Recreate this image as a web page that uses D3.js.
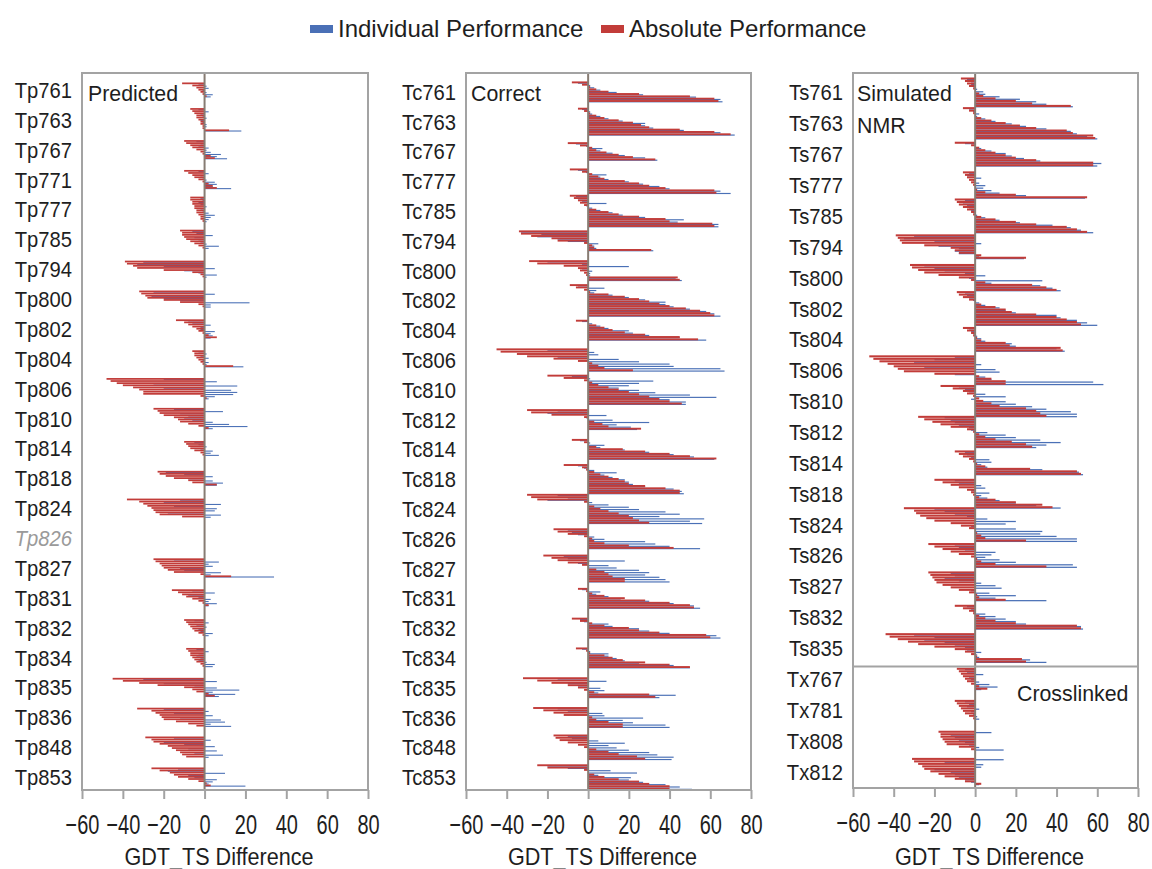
<!DOCTYPE html>
<html lang="en">
<head>
<meta charset="UTF-8">
<title>GDT_TS Difference</title>
<script src="https://cdn.jsdelivr.net/npm/d3@7/dist/d3.min.js"></script>
<style>
  body { margin:0; background:#fff; }
  text { font-family: "Liberation Sans", Arial, sans-serif; fill:#1e1e1e; }
</style>
</head>
<body>
<svg id="chart" width="1152" height="869"></svg>
<script>
var xTicks = [-60, -40, -20, 0, 20, 40, 60, 80];

// Predicted
var predTargets = ["Tp761","Tp763","Tp767","Tp771","Tp777","Tp785","Tp794","Tp800","Tp802","Tp804","Tp806","Tp810",
                   "Tp814","Tp818","Tp824","Tp826","Tp827","Tp831","Tp832","Tp834","Tp835","Tp836","Tp848","Tp853"];
var predAbs = [
  [-11,-6,-4,-3,-2,-1,1], [-7,-6,-5,-4,-4,-3,-2,-2,-1,-1,12], [-10,-9,-7,-6,-4,-2,-1,3,5], [-10,-8,-6,-5,-3,-1,2,4,6],
  [-7,-7,-6,-6,-5,-5,-4,-4,-3,-2,-2,-1], [-12,-11,-11,-10,-9,-7,-5,-3,-1], [-39,-38,-35,-33,-20,-6,-2,-1], [-32,-31,-29,-28,-20,-12,-3,-1],
  [-14,-10,-8,-6,-4,-3,-1,2,6], [-6,-5,-5,-4,-3,-2,-1,14], [-48,-46,-43,-40,-35,-32,-30,-30,-2,1], [-25,-23,-22,-20,-15,-13,-12,-8,-3,2],
  [-10,-9,-8,-7,-5,-2,-1], [-23,-22,-19,-15,-8,-6,6], [-38,-32,-30,-28,-26,-25,-24,-22,-11], [],
  [-25,-24,-22,-21,-20,-18,-15,-2,13], [-16,-13,-11,-9,-6,-3,-1,2], [-10,-9,-8,-7,-6,-5,-3,-1], [-9,-8,-7,-7,-6,-5,-4,-2,-1],
  [-45,-40,-32,-23,-10,-6,-4,2,5], [-33,-26,-24,-22,-21,-20,-14,-8,-4], [-29,-26,-25,-22,-18,-16,-14,-12,-11,-9], [-26,-22,-17,-15,-13,-8,-3,1,3]
];
var predInd = [
  [-3,1,2,-1,1,4,3], [-3,2,-2,-1,1,-2,-1,1,1,0,18], [-4,-2,-3,2,1,3,8,6,11], [-3,2,-2,-1,1,5,6,4,13],
  [-2,-1,-3,-2,1,-2,-1,2,5,3,2,1], [-6,-4,4,-5,-3,-2,1,7,2], [-30,-33,-20,5,-10,-3,6,1], [-25,5,-26,-20,-12,22,3,3],
  [-8,-6,3,-2,-2,5,3,4,3], [-3,1,-2,2,-1,2,1,19], [-20,6,-25,16,-20,13,16,14,5,2], [-15,9,-12,-8,-10,-6,4,12,21,4],
  [-5,-3,1,-2,4,3,7], [-19,-10,4,-8,4,9,6], [-12,-20,8,-15,6,5,-18,8,3], [],
  [-15,7,2,4,-12,-10,8,3,34], [-6,5,-8,-3,3,2,6,2], [-5,2,-4,1,-3,-2,4,2], [-4,2,-3,-4,-2,-3,1,5,4],
  [-30,6,-20,-5,6,17,4,15,7], [-20,2,-15,4,-12,8,10,3,13], [-15,3,-20,-10,5,-8,6,-5,9,2], [-13,-18,10,-8,-5,6,4,2,20]
];

// Correct
var corrTargets = ["Tc761","Tc763","Tc767","Tc777","Tc785","Tc794","Tc800","Tc802","Tc804","Tc806","Tc810","Tc812",
                   "Tc814","Tc818","Tc824","Tc826","Tc827","Tc831","Tc832","Tc834","Tc835","Tc836","Tc848","Tc853"];
var corrAbs = [
  [-8,-3,1,4,10,25,50,62,64], [-5,-2,1,4,8,15,22,26,30,45,62,70], [-10,-4,2,4,9,15,22,33], [-9,-3,2,5,8,18,25,30,38,62,63],
  [-9,-7,-5,-4,-2,0,4,10,15,25,38,40,61,62], [-34,-33,-28,-18,-15,-2,2,3,31], [-29,-25,-12,-5,-4,-2,-1,44,45],
  [-9,-6,-2,1,10,18,25,30,35,40,48,55,60,62], [-6,0,4,8,12,18,28,45,54], [-45,-43,-35,-30,-17,-5,2,5,8,22],
  [-20,-12,-2,2,5,10,15,20,25,30,35,40,46], [-30,-28,-18,-2,0,3,7,10,26], [-8,-2,0,4,17,28,40,50,63],
  [-12,-3,-1,3,6,10,15,18,20,28,38,45,45], [-30,-28,-25,-2,0,3,6,10,15,20,22,25,30], [-17,-15,-10,-2,2,3,8,20,42],
  [-22,-18,-15,-10,-3,0,4,8,10,12,18,18], [-5,-1,2,8,18,28,40,50,52], [-8,-4,2,8,20,25,35,58,60], [-6,-1,1,8,12,17,28,40,50],
  [-32,-25,-18,-10,-5,-2,3,30,33], [-27,-22,-17,-12,2,4,10,17,17], [-17,-16,-14,-10,-5,-2,4,10,15,24,28], [-25,-20,-2,0,3,8,15,25,30,40,40]
];
var corrInd = [
  [-5,1,3,6,14,27,53,65,66], [-3,1,2,6,10,17,28,28,32,47,65,72], [-6,-1,7,6,12,18,28,34], [-5,-1,9,6,10,20,27,35,40,65,70],
  [-6,-5,-3,9,-1,2,6,12,17,28,47,44,64,64], [-33,-23,-25,-15,-10,5,3,4,32], [-20,-3,20,-3,2,1,1,43,46],
  [-5,8,4,3,12,20,28,38,38,42,50,58,62,65], [-3,2,6,10,20,22,30,45,58], [-20,3,5,-15,15,25,40,42,65,67],
  [-8,1,32,25,20,15,25,33,50,63,40,48,48], [-15,-20,9,-1,12,30,14,21,24], [-4,1,8,6,18,30,42,52,62],
  [-5,-2,3,14,8,12,18,20,22,28,42,46,47], [-15,-10,-20,2,10,20,25,38,45,35,57,50,56], [-10,-8,-5,3,8,28,33,40,55],
  [-12,-10,18,-5,10,14,25,30,28,35,38,40], [-3,6,4,10,16,30,42,52,55], [-4,-2,10,12,25,30,40,63,65], [-3,1,10,10,14,18,25,42,50],
  [-15,9,-10,-5,6,8,5,43,35], [-15,-10,7,8,27,17,22,38,40], [-10,-8,5,18,10,14,20,30,34,42,41], [-20,-10,11,24,5,21,20,27,38,45,51]
];

// Simulated NMR
var simTargets = ["Ts761","Ts763","Ts767","Ts777","Ts785","Ts794","Ts800","Ts802","Ts804","Ts806","Ts810","Ts812",
                  "Ts814","Ts818","Ts824","Ts826","Ts827","Ts832","Ts835"];
var simAbs = [
  [-7,-5,-4,-3,-1,0,2,4,10,20,28,47], [-6,-3,-1,0,3,8,15,22,30,45,48,58,59], [-10,-2,2,5,10,15,20,30,58,58], [-6,-5,-4,-3,-2,-1,0,1,5,20,55],
  [-10,-9,-8,-6,-4,-2,-1,3,10,20,30,45,50,55], [-39,-38,-37,-36,-25,-12,-10,-8,3,25], [-32,-31,-28,-25,-18,-8,-2,5,28,35,40],
  [-9,-8,-6,-3,0,3,10,15,18,30,40,45,50,52], [-6,-4,-2,-1,1,3,15,17,42,43], [-52,-50,-47,-43,-40,-38,-35,-20,2,8,15,15],
  [-17,-11,-6,-4,-1,2,4,8,12,25,30,32,35], [-28,-25,-21,-17,-12,-4,-1,2,5,10,18,25,28], [-10,-8,-6,-3,-1,1,5,27,50,52],
  [-20,-16,-12,-8,-4,-2,-1,2,10,20,33,38], [-35,-30,-29,-27,-24,-20,-12,-7,-3,0,1,3,5,25], [-23,-20,-16,-12,-8,-2,1,3,10,35],
  [-23,-22,-21,-20,-19,-16,-12,-8,-3,1,2,15], [-10,-6,-3,-1,2,5,10,20,50,52], [-44,-42,-38,-33,-28,-20,-10,-5,-2,1,23,25]
];
var simInd = [
  [-4,-2,-2,-1,1,4,5,12,22,30,35,48], [-3,-1,2,1,5,10,18,25,35,47,50,55,60], [-5,0,3,8,15,18,24,32,62,60], [-3,-4,3,-1,2,5,4,8,12,25,54],
  [-5,-6,-4,-3,-2,-1,1,5,12,22,38,47,52,58], [-30,-35,-20,3,-18,-8,-10,-8,2,24], [-25,-20,-15,-5,5,-3,33,8,32,38,42],
  [-5,-4,-3,-1,2,5,12,15,20,40,42,50,55,60], [-3,-2,-1,1,3,5,18,20,40,44], [-10,-20,-30,3,-25,10,12,-10,5,8,58,63],
  [-8,-5,-3,5,15,-2,15,20,28,35,47,50,50], [-15,-12,-10,-8,-3,-2,6,15,20,32,42,35,30], [-5,-4,-2,7,8,3,6,33,51,53],
  [-10,-8,3,5,-2,7,3,6,12,20,30,42], [-20,-15,-10,-4,6,20,15,-2,20,33,32,40,50,50], [-10,-8,-5,10,8,5,12,20,48,50],
  [-12,-10,-15,-8,3,10,13,-2,7,20,10,35], [-4,-2,-1,5,10,15,20,25,52,53], [-30,-20,-25,-15,-10,-5,-4,3,1,2,27,35]
];

// Crosslinked
var xlTargets = ["Tx767","Tx781","Tx808","Tx812"];
var xlAbs = [[-9,-8,-7,-6,-5,-4,-2,2,6], [-10,-9,-8,-7,-6,-5,-3,-1], [-18,-17,-17,-16,-15,-14,-8,-2], [-31,-30,-28,-26,-25,-22,-18,-15,-10,-5,3]];
var xlInd = [[-5,-4,4,-3,-2,2,7,11,3], [-5,-3,-4,2,-2,-1,1,2], [8,-12,-10,-8,-5,-3,2,14], [14,-15,4,3,-20,-12,-10,-8,-5,-2,2]];

var RED = "#c23c39", BLUE = "#4a70b6";
var plotTop = 73;

var svg = d3.select("#chart");

// condensed text helper
function label(g, txt, x, y, size, anchor, sx) {
  return g.append("text")
    .attr("transform", "translate(" + x + "," + y + ") scale(" + sx + ",1)")
    .attr("text-anchor", anchor)
    .attr("font-size", size)
    .text(txt);
}

var panels = [
  {names: predTargets, abs: predAbs, ind: predInd, left: 82, right: 368, bottom: 790, band: [75, 792], slots: 14},
  {names: corrTargets, abs: corrAbs, ind: corrInd, left: 466, right: 751, bottom: 790, band: [77, 792], slots: 12.8},
  {names: simTargets.concat(xlTargets), abs: simAbs.concat(xlAbs), ind: simInd.concat(xlInd),
   left: 853, right: 1138, bottom: 788, band: [77, 787], slots: 12.4, split: simTargets.length}
];

panels.forEach(function (p) {
  var x = d3.scaleLinear().domain([-60, 80]).range([p.left, p.right]);
  var yb = d3.scaleBand().domain(p.names).range(p.band);
  var step = yb.bandwidth() / p.slots;

  // rows of each target centred in its band
  var rows = [];
  p.names.forEach(function (n, i) {
    var cnt = p.abs[i].length;
    var c = yb(n) + yb.bandwidth() / 2;
    var yr = d3.scaleLinear().domain([0, cnt]).range([c - cnt * step / 2, c + cnt * step / 2]);
    p.abs[i].forEach(function (v, j) {
      rows.push({y: yr(j), a: v, b: p.ind[i][j]});
    });
  });

  var g = svg.append("g");

  g.selectAll("rect.ind").data(rows).enter().append("rect")
    .attr("class", "ind")
    .attr("x", function (d) { return x(Math.min(0, d.b)); })
    .attr("width", function (d) { return Math.abs(x(d.b) - x(0)); })
    .attr("y", function (d) { return d.y + step * 0.5; })
    .attr("height", step * 0.5)
    .attr("fill", BLUE);

  g.selectAll("rect.abs").data(rows).enter().append("rect")
    .attr("class", "abs")
    .attr("x", function (d) { return x(Math.min(0, d.a)); })
    .attr("width", function (d) { return Math.abs(x(d.a) - x(0)); })
    .attr("y", function (d) { return d.y; })
    .attr("height", step * 0.82)
    .attr("fill", RED);

  // zero line
  g.append("line")
    .attr("x1", x(0)).attr("x2", x(0))
    .attr("y1", plotTop).attr("y2", p.bottom)
    .attr("stroke", "#877c73").attr("stroke-width", 2);

  // frame
  g.append("rect")
    .attr("x", p.left).attr("y", plotTop)
    .attr("width", p.right - p.left).attr("height", p.bottom - plotTop)
    .attr("fill", "none").attr("stroke", "#a3a3a3").attr("stroke-width", 2);

  if (p.split) {
    var ys = yb(p.names[p.split]) + 3;
    g.append("line")
      .attr("x1", p.left).attr("x2", p.right)
      .attr("y1", ys).attr("y2", ys)
      .attr("stroke", "#a3a3a3").attr("stroke-width", 2);
  }

  // category labels
  p.names.forEach(function (n, i) {
    var t = label(g, n, p.left - 10, yb(n) + yb.bandwidth() / 2 + 8, 22, "end", 0.92);
    if (p.abs[i].length === 0) t.attr("font-style", "italic").style("fill", "#9a9a9a");
  });

  // x axis
  var ax = g.append("g")
    .attr("transform", "translate(0," + p.bottom + ")")
    .call(d3.axisBottom(x).tickValues(xTicks).tickSize(9).tickFormat(d3.format("d")));
  ax.select(".domain").remove();
  ax.selectAll(".tick line").attr("stroke", "#a3a3a3").attr("stroke-width", 2);
  ax.selectAll(".tick text")
    .attr("y", 44).attr("dy", null)
    .attr("font-size", 27)
    .attr("font-family", "Liberation Sans, Arial, sans-serif")
    .attr("fill", "#1e1e1e")
    .attr("transform", "scale(0.74,1)");

  label(g, "GDT_TS Difference", (p.left + p.right) / 2 - 6, 865, 24, "middle", 0.9);
});

// panel titles
label(svg, "Predicted", 88, 101, 22, "start", 0.97);
label(svg, "Correct", 471, 101, 22, "start", 0.97);
label(svg, "Simulated", 857, 101, 22, "start", 0.97);
label(svg, "NMR", 857, 133, 22, "start", 0.97);
label(svg, "Crosslinked", 1017, 701, 22, "start", 0.97);

// legend
var legend = [{name: "Individual Performance", color: BLUE, x: 310}, {name: "Absolute Performance", color: RED, x: 601}];
legend.forEach(function (l) {
  svg.append("rect").attr("x", l.x).attr("y", 25).attr("width", 23).attr("height", 8).attr("fill", l.color);
  label(svg, l.name, l.x + 28, 37, 24, "start", 1.0);
});
</script>
</body>
</html>
